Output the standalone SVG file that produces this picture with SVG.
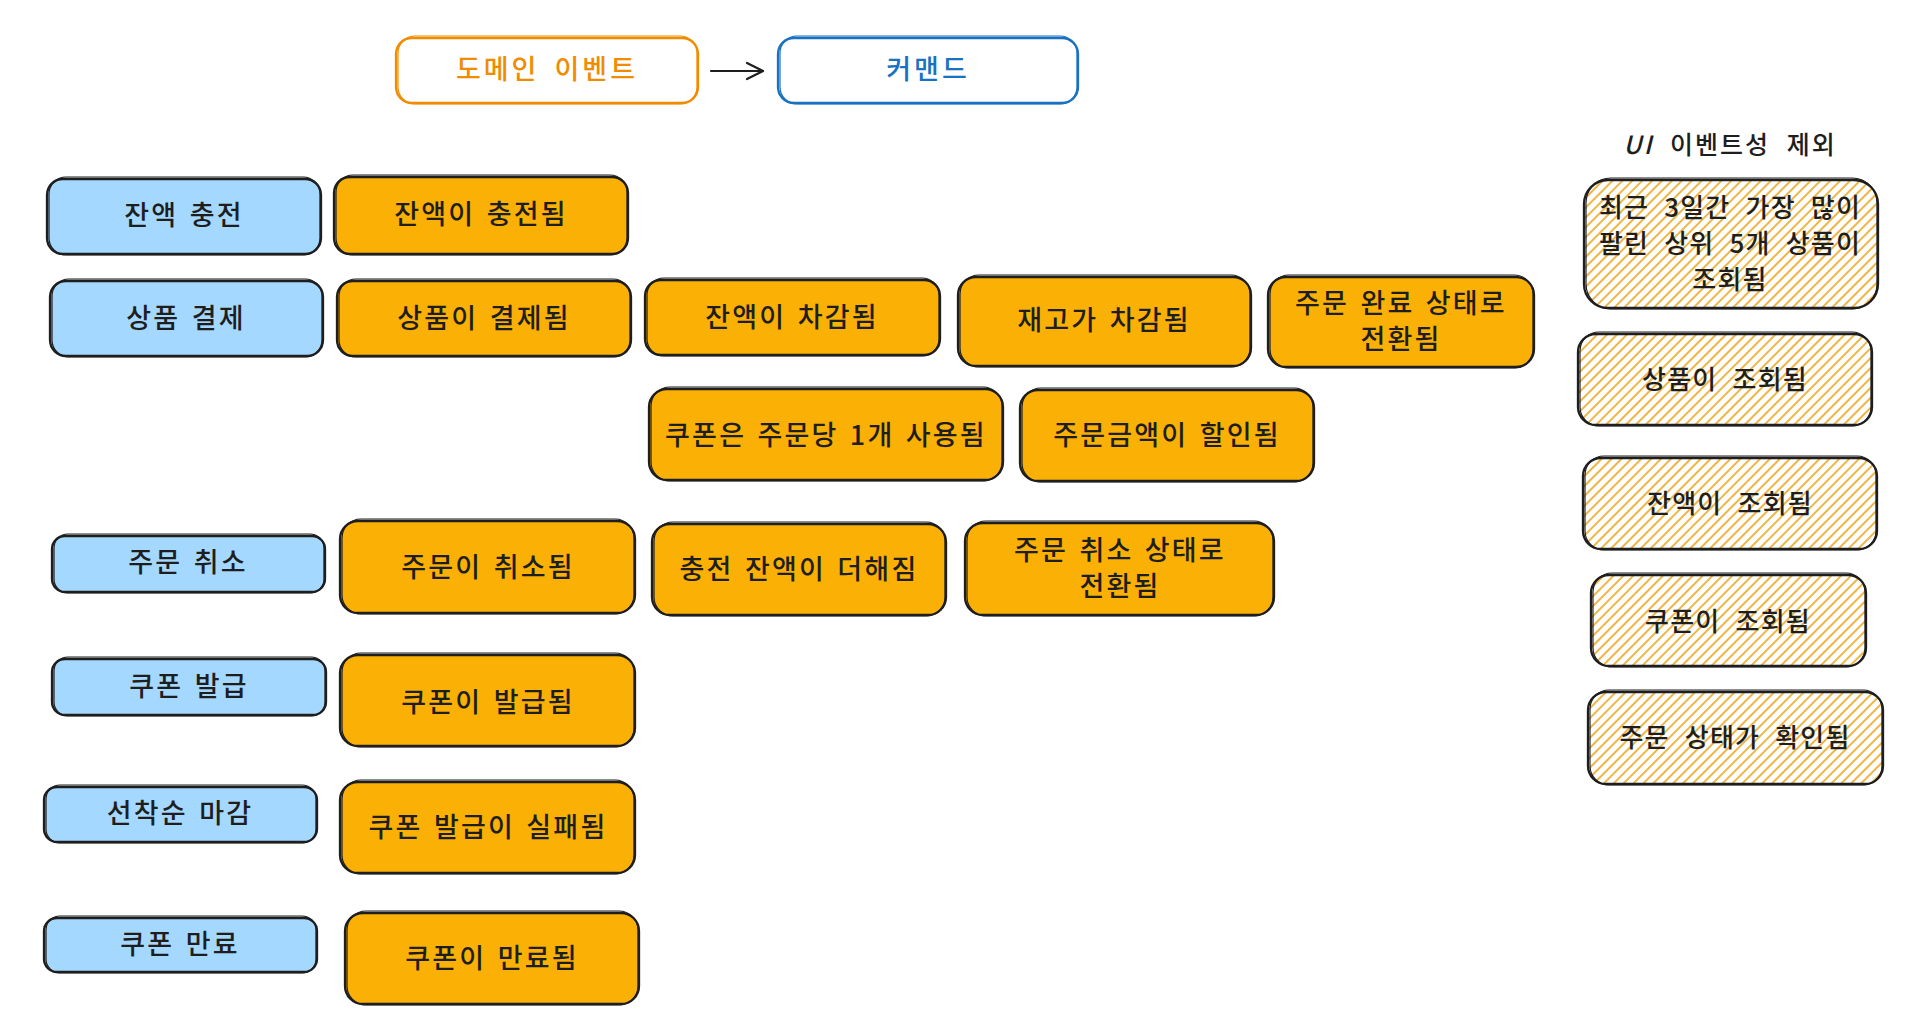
<svg xmlns="http://www.w3.org/2000/svg" width="1906" height="1032" viewBox="0 0 1906 1032">
<defs>
<style>
text{font-family:"Noto Sans CJK KR","Noto Sans",sans-serif;font-size:27px;font-weight:500;fill:#1e1e1e;text-anchor:middle;dominant-baseline:central;letter-spacing:2.2px;word-spacing:3px}
.blue{fill:#a5d8ff;stroke:#1e1e1e;stroke-width:2.3}
.org{fill:#fab005;stroke:#1e1e1e;stroke-width:2.3}
.hat{fill:url(#hachure);stroke:#1e1e1e;stroke-width:2.3}
.sk{fill:none;stroke:#1e1e1e;stroke-width:1.2}
.ui{font-size:26px;letter-spacing:1.2px;word-spacing:8px}
.title{font-size:25px;letter-spacing:2px;word-spacing:9px}
.lg{letter-spacing:3px;word-spacing:6px}
</style>
<pattern id="hachure" width="7" height="7" patternUnits="userSpaceOnUse" patternTransform="rotate(45)">
<rect width="7" height="7" fill="#ffffff"/>
<line x1="1" y1="0" x2="1" y2="7" stroke="#eeae30" stroke-width="1.8"/>
</pattern>
<marker id="arrow" viewBox="0 0 20 20" refX="18" refY="10" markerWidth="20" markerHeight="20" markerUnits="userSpaceOnUse" orient="auto">
<path d="M2,2 L18,10 L2,18" fill="none" stroke="#1e1e1e" stroke-width="2.2" stroke-linecap="round" stroke-linejoin="round"/>
</marker>
</defs>
<rect width="1906" height="1032" fill="#ffffff"/>

<g id="connectors">
<line x1="711" y1="71" x2="763" y2="71" stroke="#1e1e1e" stroke-width="2.2" stroke-linecap="round" marker-end="url(#arrow)"/>
</g>

<g id="legend-domain-event">
<rect x="396" y="38" width="302" height="65" rx="16" fill="#ffffff" stroke="#f08c00" stroke-width="2.3"/>
<rect x="398" y="36" width="299" height="68" rx="17" fill="none" stroke="#f08c00" stroke-width="1.2"/>
<text class="lg" x="547" y="67" style="fill:#f08c00">도메인 이벤트</text>
</g>
<g id="legend-command">
<rect x="778" y="38" width="300" height="65" rx="16" fill="#ffffff" stroke="#1971c2" stroke-width="2.3"/>
<rect x="780" y="36" width="297" height="68" rx="17" fill="none" stroke="#1971c2" stroke-width="1.2"/>
<text class="lg" x="928" y="67" style="fill:#1971c2">커맨드</text>
</g>

<g id="cmd-charge">
<rect class="blue" x="47" y="179" width="274" height="75" rx="16"/>
<rect class="sk" x="49" y="177" width="271" height="78" rx="17"/>
<text x="184" y="213">잔액 충전</text>
</g>
<g id="cmd-pay">
<rect class="blue" x="50" y="281" width="273" height="75" rx="16"/>
<rect class="sk" x="52" y="279" width="270" height="78" rx="17"/>
<text x="186" y="316">상품 결제</text>
</g>
<g id="cmd-cancel">
<rect class="blue" x="52" y="536" width="273" height="56" rx="13"/>
<rect class="sk" x="54" y="534" width="270" height="59" rx="14"/>
<text x="188" y="560">주문 취소</text>
</g>
<g id="cmd-issue">
<rect class="blue" x="52" y="659" width="274" height="56" rx="13"/>
<rect class="sk" x="54" y="657" width="271" height="59" rx="14"/>
<text x="189" y="684">쿠폰 발급</text>
</g>
<g id="cmd-firstcome">
<rect class="blue" x="44" y="787" width="273" height="55" rx="13"/>
<rect class="sk" x="46" y="785" width="270" height="58" rx="14"/>
<text x="180" y="811">선착순 마감</text>
</g>
<g id="cmd-expire">
<rect class="blue" x="44" y="918" width="273" height="54" rx="13"/>
<rect class="sk" x="46" y="916" width="270" height="57" rx="14"/>
<text x="180" y="942">쿠폰 만료</text>
</g>

<g id="ev-charged">
<rect class="org" x="334" y="177" width="294" height="77" rx="16"/>
<rect class="sk" x="336" y="175" width="291" height="80" rx="17"/>
<text x="481" y="212">잔액이 충전됨</text>
</g>
<g id="ev-paid">
<rect class="org" x="337" y="281" width="294" height="75" rx="16"/>
<rect class="sk" x="339" y="279" width="291" height="78" rx="17"/>
<text x="484" y="316">상품이 결제됨</text>
</g>
<g id="ev-deducted">
<rect class="org" x="645" y="280" width="295" height="75" rx="16"/>
<rect class="sk" x="647" y="278" width="292" height="78" rx="17"/>
<text x="792" y="315">잔액이 차감됨</text>
</g>
<g id="ev-stock">
<rect class="org" x="958" y="277" width="293" height="89" rx="18"/>
<rect class="sk" x="960" y="275" width="290" height="92" rx="19"/>
<text x="1104" y="318">재고가 차감됨</text>
</g>
<g id="ev-ordercomplete">
<rect class="org" x="1268" y="277" width="266" height="90" rx="18"/>
<rect class="sk" x="1270" y="275" width="263" height="93" rx="19"/>
<text x="1401" y="301">주문 완료 상태로</text>
<text x="1401" y="337">전환됨</text>
</g>
<g id="ev-couponused">
<rect class="org" x="649" y="389" width="354" height="91" rx="18"/>
<rect class="sk" x="651" y="387" width="351" height="94" rx="19"/>
<text x="826" y="433">쿠폰은 주문당 1개 사용됨</text>
</g>
<g id="ev-discount">
<rect class="org" x="1020" y="390" width="294" height="91" rx="18"/>
<rect class="sk" x="1022" y="388" width="291" height="94" rx="19"/>
<text x="1167" y="433">주문금액이 할인됨</text>
</g>
<g id="ev-cancelled">
<rect class="org" x="340" y="521" width="295" height="92" rx="18"/>
<rect class="sk" x="342" y="519" width="292" height="95" rx="19"/>
<text x="488" y="565">주문이 취소됨</text>
</g>
<g id="ev-refund">
<rect class="org" x="652" y="524" width="294" height="91" rx="18"/>
<rect class="sk" x="654" y="522" width="291" height="94" rx="19"/>
<text x="799" y="567">충전 잔액이 더해짐</text>
</g>
<g id="ev-ordercancel">
<rect class="org" x="965" y="523" width="309" height="92" rx="18"/>
<rect class="sk" x="967" y="521" width="306" height="95" rx="19"/>
<text x="1120" y="548">주문 취소 상태로</text>
<text x="1120" y="584">전환됨</text>
</g>
<g id="ev-issued">
<rect class="org" x="340" y="655" width="295" height="91" rx="18"/>
<rect class="sk" x="342" y="653" width="292" height="94" rx="19"/>
<text x="488" y="700">쿠폰이 발급됨</text>
</g>
<g id="ev-issuefail">
<rect class="org" x="340" y="782" width="295" height="91" rx="18"/>
<rect class="sk" x="342" y="780" width="292" height="94" rx="19"/>
<text x="488" y="825">쿠폰 발급이 실패됨</text>
</g>
<g id="ev-expired">
<rect class="org" x="345" y="913" width="294" height="91" rx="18"/>
<rect class="sk" x="347" y="911" width="291" height="94" rx="19"/>
<text x="492" y="956">쿠폰이 만료됨</text>
</g>

<g id="ui-title">
<text class="title" x="1730" y="143"><tspan font-style="italic">UI</tspan> 이벤트성 제외</text>
</g>
<g id="ui-top-products">
<rect class="hat" x="1584" y="180" width="294" height="128" rx="24"/>
<rect class="sk" x="1586" y="178" width="291" height="131" rx="25"/>
<text class="ui" x="1730" y="205">최근 3일간 가장 많이</text>
<text class="ui" x="1730" y="241">팔린 상위 5개 상품이</text>
<text class="ui" x="1730" y="277">조회됨</text>
</g>
<g id="ui-product">
<rect class="hat" x="1578" y="334" width="294" height="91" rx="18"/>
<rect class="sk" x="1580" y="332" width="291" height="94" rx="19"/>
<text class="ui" x="1725" y="377">상품이 조회됨</text>
</g>
<g id="ui-balance">
<rect class="hat" x="1583" y="458" width="294" height="91" rx="18"/>
<rect class="sk" x="1585" y="456" width="291" height="94" rx="19"/>
<text class="ui" x="1730" y="501">잔액이 조회됨</text>
</g>
<g id="ui-coupon">
<rect class="hat" x="1591" y="575" width="275" height="91" rx="18"/>
<rect class="sk" x="1593" y="573" width="272" height="94" rx="19"/>
<text class="ui" x="1728" y="619">쿠폰이 조회됨</text>
</g>
<g id="ui-orderstatus">
<rect class="hat" x="1588" y="692" width="295" height="92" rx="18"/>
<rect class="sk" x="1590" y="690" width="292" height="95" rx="19"/>
<text class="ui" x="1735" y="735">주문 상태가 확인됨</text>
</g>
</svg>
